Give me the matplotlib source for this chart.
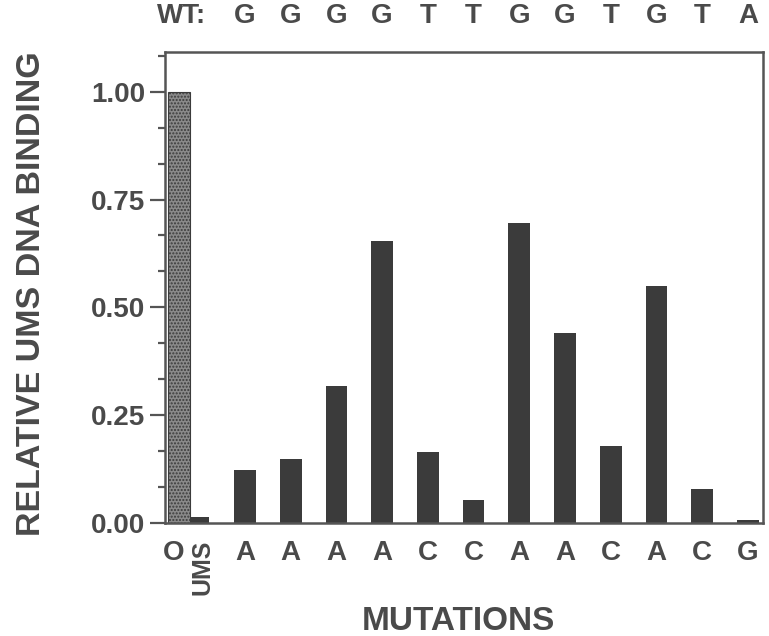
import matplotlib
matplotlib.use("Agg")
import matplotlib.pyplot as plt
import numpy as np

plt.rcParams['font.family'] = ['Liberation Sans', 'DejaVu Sans']
plt.rcParams['font.weight'] = 'bold'
plt.rcParams['axes.labelweight'] = 'bold'
plt.rcParams['hatch.linewidth'] = 1.0

# data
control_labels = ['O', 'UMS']
control_values = [1.00, 0.013]
mutant_labels = ['A', 'A', 'A', 'A', 'C', 'C', 'A', 'A', 'C', 'A', 'C', 'G']
mutant_values = [0.124, 0.148, 0.317, 0.653, 0.165, 0.053, 0.695, 0.44, 0.179, 0.55, 0.079, 0.006]
wt_sequence = ['G', 'G', 'G', 'G', 'T', 'T', 'G', 'G', 'T', 'G', 'T', 'A']

text_col = '#4a4a4a'
bar_col = '#3b3b3b'

fig = plt.figure(figsize=(7.69, 6.36), dpi=100)
ax = fig.add_axes([0.2146, 0.1777, 0.7776, 0.7405])

x_mut = np.arange(len(mutant_values))
x_ctrl = np.array([-1.44, -0.99])
x_ctrl_lab = np.array([-1.57, -0.92])

ax.bar(x_ctrl[0], control_values[0], width=0.475, color='#8a8a8a',
       edgecolor='#3b3b3b', hatch='.....', linewidth=0.8)
ax.bar(x_ctrl[1], control_values[1], width=0.42, color=bar_col, linewidth=0)
ax.bar(x_mut, mutant_values, width=0.475, color=bar_col, linewidth=0)

ax.set_xlim(-1.75, 11.33)
ax.set_ylim(0, 1.092)

ax.set_xticks(list(x_ctrl_lab) + list(x_mut))
ax.set_xticklabels(control_labels + mutant_labels)
ax.tick_params(axis='x', length=0, pad=12, labelsize=20, labelcolor=text_col)
ums = ax.get_xticklabels()[1]
ums.set_rotation(90)
ums.set_fontsize(18)
ums.set_va('top')

ax.set_yticks([0, 0.25, 0.5, 0.75, 1.0])
ax.set_yticklabels(['0.00', '0.25', '0.50', '0.75', '1.00'])
minor = [k / 12 for k in range(14) if k % 3 != 0]
ax.set_yticks(minor, minor=True)
ax.tick_params(axis='y', which='major', length=11, width=1.6, color='#555555',
               labelsize=20, labelcolor=text_col, pad=3)
ax.tick_params(axis='y', which='minor', length=5, width=1.6, color='#555555')

for s in ax.spines.values():
    s.set_color('#555555')
    s.set_linewidth(1.8)

ax.set_ylabel('RELATIVE UMS DNA BINDING', fontsize=24.5, color=text_col)
ax.yaxis.set_label_coords(-0.198, 0.486)
ax.set_xlabel('MUTATIONS', fontsize=24, color=text_col)
ax.xaxis.set_label_coords(0.49, -0.21)
ax.xaxis.label.set_va('center')

# wild-type sequence above the bars
trans = ax.get_xaxis_transform()
ax.text(-0.85, 1.076, 'WT:', transform=trans, ha='right', va='center',
        fontsize=20, color=text_col)
for xi, letter in zip(x_mut, wt_sequence):
    ax.text(xi, 1.076, letter, transform=trans, ha='center', va='center',
            fontsize=20, color=text_col)

fig.savefig('out.png', dpi=100)
